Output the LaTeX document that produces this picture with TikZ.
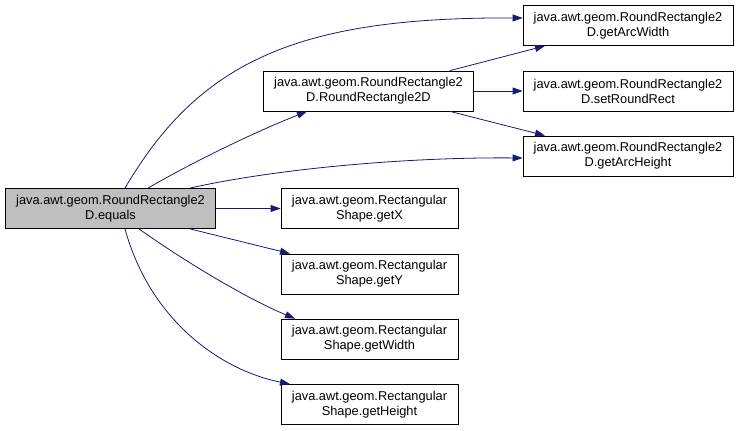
\documentclass[tikz,border=0pt]{standalone}
\usepackage{fontspec}
\setmainfont{Liberation Sans}
\usetikzlibrary{arrows.meta}
\definecolor{edgeblue}{HTML}{191970}

\begin{document}
\begin{tikzpicture}[x=1pt,y=-1pt,
    box/.style={draw,line width=0.8pt,minimum height=40pt,inner sep=1pt,align=center,
      font=\fontsize{12.8pt}{15pt}\selectfont},
    wbox/.style={box,minimum width=210pt},
    nbox/.style={box,minimum width=177pt},
    call/.style={draw=edgeblue,line width=0.8pt,-{Triangle[length=10pt,width=7pt]}}]
  \useasboundingbox (0,0) rectangle (739,431);
  \node[wbox,fill={rgb,255:red,191;green,191;blue,191}] (eq) at (110.5,208.5) {java.awt.geom.RoundRectangle2\\D.equals};
  \node[wbox] (rr) at (368.5,91) {java.awt.geom.RoundRectangle2\\D.RoundRectangle2D};
  \node[wbox] (aw) at (628,25.5) {java.awt.geom.RoundRectangle2\\D.getArcWidth};
  \node[wbox] (sr) at (628,91) {java.awt.geom.RoundRectangle2\\D.setRoundRect};
  \node[wbox] (ah) at (628,156) {java.awt.geom.RoundRectangle2\\D.getArcHeight};
  \node[nbox] (gx) at (369.5,208.5) {java.awt.geom.Rectangular\\Shape.getX};
  \node[nbox] (gy) at (369.5,274) {java.awt.geom.Rectangular\\Shape.getY};
  \node[nbox] (gw) at (369.5,339) {java.awt.geom.Rectangular\\Shape.getWidth};
  \node[nbox] (gh) at (369.5,404.5) {java.awt.geom.Rectangular\\Shape.getHeight};
  % calls from equals
  \draw[call] ([xshift=14.5pt]eq.north) .. controls (200,60) and (300,17) .. ([yshift=7.5pt]aw.west);
  \draw[call] ([xshift=37.5pt]eq.north) .. controls (200,158) and (260,130) .. ([xshift=-61.5pt]rr.south);
  \draw[call] ([xshift=79.5pt]eq.north) .. controls (270,170) and (400,157) .. ([yshift=-2pt]ah.west);
  \draw[call] (eq.east) -- (gx.west);
  \draw[call] ([xshift=79.5pt]eq.south) -- ([xshift=-79.5pt]gy.north);
  \draw[call] ([xshift=28.5pt]eq.south) .. controls (190,265) and (250,300) .. ([xshift=-74.5pt]gw.north);
  \draw[call] ([xshift=14.5pt]eq.south) .. controls (150,320) and (220,370) .. ([xshift=-79.5pt]gh.north);
  % calls from RoundRectangle2D
  \draw[call] ([xshift=81.5pt]rr.north) -- ([xshift=-83pt]aw.south);
  \draw[call] (rr.east) -- (sr.west);
  \draw[call] ([xshift=81.5pt]rr.south) -- ([xshift=-83pt]ah.north);
\end{tikzpicture}
\end{document}
